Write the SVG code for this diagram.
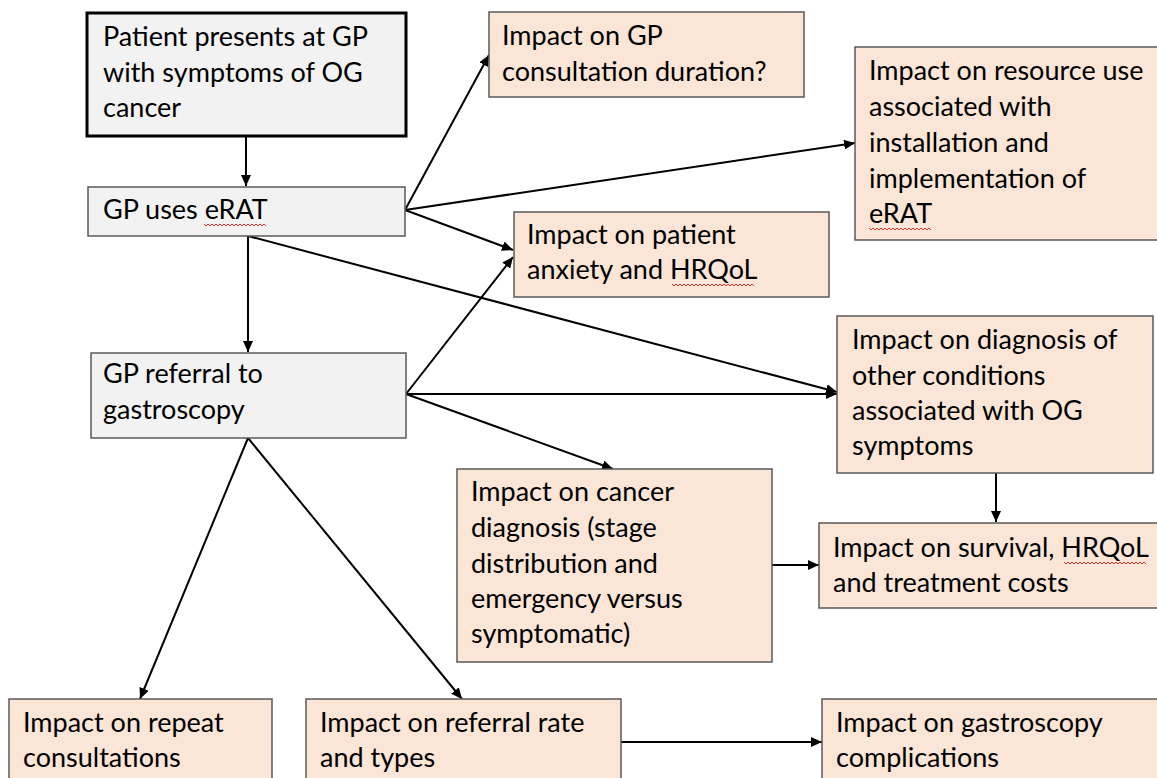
<svg xmlns="http://www.w3.org/2000/svg" width="1157" height="778" viewBox="0 0 1157 778">
<defs>
<marker id="ah" markerUnits="userSpaceOnUse" markerWidth="12" markerHeight="10" refX="11" refY="5" orient="auto">
<path d="M0,0 L11,5 L0,10 z" fill="#000"/>
</marker>
<style>
.g{fill:#f2f2f2;stroke:#595959;stroke-width:1.5}
.p{fill:#fbe5d6;stroke:#595959;stroke-width:1.5}
.t{font-family:Lato,"Liberation Sans",sans-serif;font-size:27px;fill:#000}
.c{stroke:#000;stroke-width:2;fill:none}
.a{marker-end:url(#ah)}
.sq{stroke:#e03030;stroke-width:1;fill:none}
</style>
</defs>
<rect width="1157" height="778" fill="#fff"/>
<g id="connectors">
<line class="c a" x1="246" y1="136" x2="246" y2="186"/>
<line class="c a" x1="405" y1="210" x2="489" y2="55"/>
<line class="c a" x1="405" y1="210" x2="855" y2="143"/>
<line class="c a" x1="405" y1="210" x2="513" y2="250"/>
<line class="c a" x1="248" y1="236" x2="248" y2="352"/>
<line class="c a" x1="248" y1="236" x2="837" y2="392"/>
<line class="c a" x1="406" y1="394" x2="513" y2="257"/>
<line class="c a" x1="406" y1="394" x2="837" y2="394"/>
<line class="c a" x1="406" y1="394" x2="613" y2="469"/>
<line class="c a" x1="248" y1="438" x2="140" y2="699"/>
<line class="c a" x1="248" y1="438" x2="462" y2="699"/>
<line class="c a" x1="772" y1="565" x2="819" y2="565"/>
<line class="c a" x1="996" y1="473" x2="996" y2="522"/>
<line class="c a" x1="621" y1="742" x2="822" y2="742"/>
</g>
<g id="n1">
<rect x="87" y="13" width="319" height="123" fill="#f2f2f2" stroke="#000" stroke-width="3"/>
<text class="t" x="103" y="46">Patient presents at GP</text>
<text class="t" x="103" y="82">with symptoms of OG</text>
<text class="t" x="103" y="117">cancer</text>
</g>
<g id="n2">
<rect class="g" x="88" y="187" width="317" height="49"/>
<text class="t" x="103" y="219">GP uses eRAT</text>
<path class="sq" d="M204,224 l2,2 l2,-2 l2,2 l2,-2 l2,2 l2,-2 l2,2 l2,-2 l2,2 l2,-2 l2,2 l2,-2 l2,2 l2,-2 l2,2 l2,-2 l2,2 l2,-2 l2,2 l2,-2 l2,2 l2,-2 l2,2 l2,-2 l2,2 l2,-2 l2,2 l2,-2 l2,2 l2,-2 l2,2"/>
</g>
<g id="n3">
<rect class="g" x="91" y="353" width="315" height="85"/>
<text class="t" x="103" y="383">GP referral to</text>
<text class="t" x="103" y="419">gastroscopy</text>
</g>
<g id="n4">
<rect class="p" x="489" y="12" width="315" height="85"/>
<text class="t" x="502" y="45">Impact on GP</text>
<text class="t" x="502" y="81">consultation duration?</text>
</g>
<g id="n5">
<rect class="p" x="855" y="47" width="310" height="193"/>
<text class="t" x="869" y="80">Impact on resource use</text>
<text class="t" x="869" y="116">associated with</text>
<text class="t" x="869" y="152">installation and</text>
<text class="t" x="869" y="188">implementation of</text>
<text class="t" x="869" y="223">eRAT</text>
<path class="sq" d="M869,228 l2,2 l2,-2 l2,2 l2,-2 l2,2 l2,-2 l2,2 l2,-2 l2,2 l2,-2 l2,2 l2,-2 l2,2 l2,-2 l2,2 l2,-2 l2,2 l2,-2 l2,2 l2,-2 l2,2 l2,-2 l2,2 l2,-2 l2,2 l2,-2 l2,2 l2,-2 l2,2 l2,-2 l2,2"/>
</g>
<g id="n6">
<rect class="p" x="514" y="212" width="315" height="85"/>
<text class="t" x="527" y="244">Impact on patient</text>
<text class="t" x="527" y="279">anxiety and HRQoL</text>
<path class="sq" d="M672,284 l2,2 l2,-2 l2,2 l2,-2 l2,2 l2,-2 l2,2 l2,-2 l2,2 l2,-2 l2,2 l2,-2 l2,2 l2,-2 l2,2 l2,-2 l2,2 l2,-2 l2,2 l2,-2 l2,2 l2,-2 l2,2 l2,-2 l2,2 l2,-2 l2,2 l2,-2 l2,2 l2,-2 l2,2 l2,-2 l2,2 l2,-2 l2,2 l2,-2 l2,2 l2,-2 l2,2 l2,-2 l2,2"/>
</g>
<g id="n7">
<rect class="p" x="837" y="316" width="316" height="157"/>
<text class="t" x="852" y="349">Impact on diagnosis of</text>
<text class="t" x="852" y="385">other conditions</text>
<text class="t" x="852" y="420">associated with OG</text>
<text class="t" x="852" y="455">symptoms</text>
</g>
<g id="n8">
<rect class="p" x="457" y="469" width="315" height="193"/>
<text class="t" x="471" y="501">Impact on cancer</text>
<text class="t" x="471" y="537">diagnosis (stage</text>
<text class="t" x="471" y="573">distribution and</text>
<text class="t" x="471" y="608">emergency versus</text>
<text class="t" x="471" y="643">symptomatic)</text>
</g>
<g id="n9">
<rect class="p" x="819" y="523" width="345" height="85"/>
<text class="t" x="833" y="557">Impact on survival, HRQoL</text>
<text class="t" x="833" y="592">and treatment costs</text>
<path class="sq" d="M1064,562 l2,2 l2,-2 l2,2 l2,-2 l2,2 l2,-2 l2,2 l2,-2 l2,2 l2,-2 l2,2 l2,-2 l2,2 l2,-2 l2,2 l2,-2 l2,2 l2,-2 l2,2 l2,-2 l2,2 l2,-2 l2,2 l2,-2 l2,2 l2,-2 l2,2 l2,-2 l2,2 l2,-2 l2,2 l2,-2 l2,2 l2,-2 l2,2 l2,-2 l2,2 l2,-2 l2,2 l2,-2 l2,2"/>
</g>
<g id="n10">
<rect class="p" x="9" y="699" width="263" height="95"/>
<text class="t" x="23" y="732">Impact on repeat</text>
<text class="t" x="23" y="767">consultations</text>
</g>
<g id="n11">
<rect class="p" x="306" y="699" width="315" height="95"/>
<text class="t" x="320" y="732">Impact on referral rate</text>
<text class="t" x="320" y="767">and types</text>
</g>
<g id="n12">
<rect class="p" x="822" y="699" width="345" height="95"/>
<text class="t" x="836" y="732">Impact on gastroscopy</text>
<text class="t" x="836" y="767">complications</text>
</g>
</svg>
